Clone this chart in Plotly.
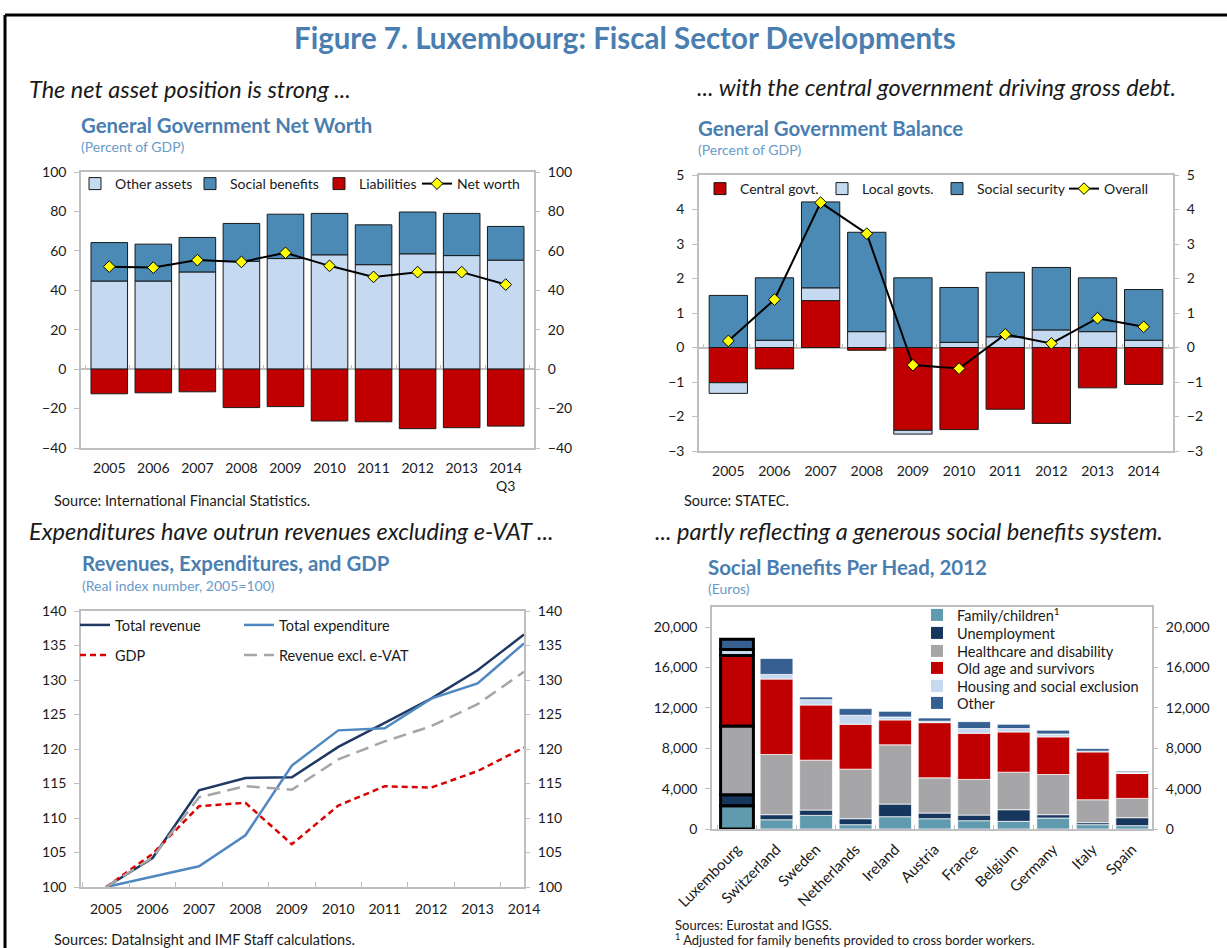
import plotly.graph_objects as go

W, H = 1227, 948
FONT = "Lato, 'Open Sans', sans-serif"
TITLE_BLUE = "#4A7EB0"
SUB_BLUE = "#6A9BC8"
AX = "#BFBFBF"
TXT = "#1a1a1a"

# ---------------- Data ----------------
years = ['2005', '2006', '2007', '2008', '2009', '2010', '2011', '2012', '2013', '2014']
nw_labels = ['2005', '2006', '2007', '2008', '2009', '2010', '2011', '2012', '2013', '2014<br>Q3']

# Panel 1: General Government Net Worth (percent of GDP)
other_assets = [44.7, 44.7, 49.3, 54.7, 56.1, 58.0, 53.0, 58.5, 57.6, 55.3]
social_benefits = [19.5, 18.7, 17.5, 19.2, 22.5, 21.0, 20.2, 21.2, 21.4, 17.1]
liabilities = [-12.5, -12.0, -11.5, -19.5, -19.0, -26.3, -26.7, -30.2, -29.7, -28.9]
net_worth = [52.0, 51.5, 55.3, 54.4, 59.0, 52.4, 46.8, 49.2, 49.2, 42.9]

# Panel 2: General Government Balance (percent of GDP)
central_govt = [-1.02, -0.62, 1.36, -0.08, -2.40, -2.38, -1.79, -2.20, -1.17, -1.07]
local_govts = [-0.31, 0.21, 0.37, 0.46, -0.11, 0.15, 0.31, 0.51, 0.46, 0.21]
social_security = [1.51, 1.81, 2.49, 2.88, 2.02, 1.59, 1.87, 1.81, 1.56, 1.47]
overall = [0.19, 1.39, 4.20, 3.30, -0.51, -0.61, 0.38, 0.12, 0.85, 0.60]

# Panel 3: Revenues, Expenditures, and GDP (2005=100)
total_revenue = [100.0, 104.2, 114.0, 115.8, 115.9, 120.3, 123.8, 127.3, 131.4, 136.6]
total_expenditure = [100.0, 101.5, 103.0, 107.5, 117.6, 122.7, 123.0, 127.3, 129.5, 135.3]
gdp = [100.0, 104.8, 111.7, 112.2, 106.2, 111.8, 114.6, 114.4, 116.8, 120.2]
revenue_excl_evat = [100.0, 104.3, 113.0, 114.6, 114.1, 118.5, 121.1, 123.3, 126.5, 131.2]

# Panel 4: Social Benefits Per Head, 2012 (Euros)
countries = ['Luxembourg', 'Switzerland', 'Sweden', 'Netherlands', 'Ireland', 'Austria',
             'France', 'Belgium', 'Germany', 'Italy', 'Spain']
family_children = [2300, 920, 1350, 430, 1220, 1020, 820, 760, 1090, 430, 330]
unemployment = [1100, 500, 530, 590, 1250, 560, 560, 1150, 330, 200, 790]
healthcare_disability = [6800, 5960, 4940, 4910, 5870, 3490, 3530, 3720, 3980, 2270, 1910]
old_age_survivors = [7000, 7480, 5470, 4450, 2470, 5470, 4580, 3990, 3730, 4740, 2470]
housing_social_excl = [600, 460, 530, 890, 290, 140, 460, 330, 290, 70, 100]
other_benefits = [1000, 1580, 260, 660, 560, 320, 690, 430, 370, 260, 130]

# ---------------- Helpers ----------------
def xd(a, b):
    return [a / W, b / W]

def yd(top, bottom):
    return [1 - bottom / H, 1 - top / H]

fig = go.Figure()

bar_line = dict(color="#1a1a1a", width=1)
diamond = dict(symbol="diamond", size=9, color="#FFFF00", line=dict(color="black", width=1))

# Panel 1
fig.add_trace(go.Bar(x=nw_labels, y=other_assets, name="Other assets", marker=dict(color="#C5D9F1", line=bar_line),
                     xaxis="x", yaxis="y", legend="legend"))
fig.add_trace(go.Bar(x=nw_labels, y=social_benefits, name="Social benefits", marker=dict(color="#4A8AB4", line=bar_line),
                     xaxis="x", yaxis="y", legend="legend2"))
fig.add_trace(go.Bar(x=nw_labels, y=liabilities, name="Liabilities", marker=dict(color="#C00000", line=bar_line),
                     xaxis="x", yaxis="y", legend="legend3"))
fig.add_trace(go.Scatter(x=nw_labels, y=net_worth, name="Net worth", mode="lines+markers",
                         line=dict(color="black", width=2), marker=diamond,
                         xaxis="x", yaxis="y", legend="legend4"))
fig.add_trace(go.Scatter(x=[nw_labels[0]], y=[0], mode="markers", marker=dict(size=0.1, opacity=0),
                         showlegend=False, hoverinfo="skip", xaxis="x", yaxis="y2"))
fig.add_trace(go.Scatter(x=nw_labels, y=[None] * len(nw_labels), mode="markers", showlegend=False,
                         hoverinfo="skip", xaxis="x5", yaxis="y"))

# Panel 2
fig.add_trace(go.Bar(x=years, y=central_govt, name="Central govt.", marker=dict(color="#C00000", line=bar_line),
                     xaxis="x2", yaxis="y3", legend="legend5"))
fig.add_trace(go.Bar(x=years, y=local_govts, name="Local govts.", marker=dict(color="#C5D9F1", line=bar_line),
                     xaxis="x2", yaxis="y3", legend="legend6"))
fig.add_trace(go.Bar(x=years, y=social_security, name="Social security", marker=dict(color="#4A8AB4", line=bar_line),
                     xaxis="x2", yaxis="y3", legend="legend7"))
fig.add_trace(go.Scatter(x=years, y=overall, name="Overall", mode="lines+markers",
                         line=dict(color="black", width=2), marker=diamond,
                         xaxis="x2", yaxis="y3", legend="legend8"))
fig.add_trace(go.Scatter(x=[years[0]], y=[0], mode="markers", marker=dict(size=0.1, opacity=0),
                         showlegend=False, hoverinfo="skip", xaxis="x2", yaxis="y4"))
fig.add_trace(go.Scatter(x=years, y=[None] * len(years), mode="markers", showlegend=False,
                         hoverinfo="skip", xaxis="x6", yaxis="y3"))

# Panel 3
fig.add_trace(go.Scatter(x=years, y=total_revenue, name="Total revenue", mode="lines",
                         line=dict(color="#1F3864", width=2.5), xaxis="x3", yaxis="y5", legend="legend9"))
fig.add_trace(go.Scatter(x=years, y=total_expenditure, name="Total expenditure", mode="lines",
                         line=dict(color="#4F88C0", width=2.5), xaxis="x3", yaxis="y5", legend="legend10"))
fig.add_trace(go.Scatter(x=years, y=gdp, name="GDP", mode="lines",
                         line=dict(color="#D90000", width=2.5, dash="6px,4px"), xaxis="x3", yaxis="y5", legend="legend11"))
fig.add_trace(go.Scatter(x=years, y=revenue_excl_evat, name="Revenue excl. e-VAT", mode="lines",
                         line=dict(color="#A6A6A6", width=2.5, dash="13px,7px"), xaxis="x3", yaxis="y5", legend="legend12"))
fig.add_trace(go.Scatter(x=[years[0]], y=[100], mode="markers", marker=dict(size=0.1, opacity=0),
                         showlegend=False, hoverinfo="skip", xaxis="x3", yaxis="y6"))

# Panel 4
lw = [3] + [0.8] * (len(countries) - 1)
lc = ["black"] + ["rgba(255,255,255,0.9)"] * (len(countries) - 1)
p4_series = [
    (family_children, "Family/children<sup>1</sup>", "#5F9AAF"),
    (unemployment, "Unemployment", "#17365D"),
    (healthcare_disability, "Healthcare and disability", "#A6A6A8"),
    (old_age_survivors, "Old age and survivors", "#C00000"),
    (housing_social_excl, "Housing and social exclusion", "#C6D9F1"),
    (other_benefits, "Other", "#366092"),
]
for i, (vals, nm, col) in enumerate(p4_series):
    fig.add_trace(go.Bar(x=countries, y=vals, name=nm, marker=dict(color=col, line=dict(color=lc, width=lw)),
                         xaxis="x4", yaxis="y7", showlegend=False))
for i, (vals, nm, col) in enumerate(p4_series):
    # legend entries (plain swatches, no data drawn)
    fig.add_trace(go.Bar(x=[countries[0]], y=[None], name=nm, marker=dict(color=col, line=dict(width=0)),
                         xaxis="x4", yaxis="y7", legend="legend%d" % (13 + i), hoverinfo="skip"))
fig.add_trace(go.Scatter(x=[countries[0]], y=[0], mode="markers", marker=dict(size=0.1, opacity=0),
                         showlegend=False, hoverinfo="skip", xaxis="x4", yaxis="y8"))

# ---------------- Axes ----------------
tickfont = dict(family=FONT, size=14, color=TXT)

def xcat(domain, anchor, **kw):
    d = dict(domain=domain, anchor=anchor, type="category", showline=True, linecolor=AX, linewidth=1.5,
             mirror=True, ticks="", showgrid=False, zeroline=False, tickfont=tickfont, fixedrange=True,
             ticklabelstandoff=6)
    d.update(kw)
    return d

def xzero(over, pos):
    return dict(overlaying=over, anchor="free", position=pos, type="category", showline=False,
                showticklabels=False, ticks="inside", tickson="boundaries", ticklen=4, tickcolor=AX,
                tickwidth=1.2, showgrid=False, zeroline=False)

def yleft(domain, anchor, rng, dtick, **kw):
    d = dict(domain=domain, anchor=anchor, range=rng, dtick=dtick, showline=True, linecolor=AX, linewidth=1.5,
             mirror=True, ticks="outside", ticklen=5, tickcolor=AX, tickwidth=1.2, showgrid=False,
             zeroline=False, tickfont=tickfont, ticklabelstandoff=5)
    d.update(kw)
    return d

def yright(over, anchor, rng, dtick, **kw):
    d = dict(overlaying=over, anchor=anchor, side="right", range=rng, dtick=dtick, showline=False,
             ticks="outside", ticklen=5, tickcolor=AX, tickwidth=1.2, showgrid=False, zeroline=False,
             tickfont=tickfont, ticklabelstandoff=5)
    d.update(kw)
    return d

y1_dom = yd(172, 448)
y3_dom = yd(175, 451)
zero1 = y1_dom[0] + (0 - (-40)) / 140 * (y1_dom[1] - y1_dom[0])
zero2 = y3_dom[0] + (0 - (-3)) / 8 * (y3_dom[1] - y3_dom[0])

sep_vals = [4000 * i for i in range(6)]
fig.update_layout(
    xaxis=xcat(xd(81, 534), "y"),
    yaxis=yleft(y1_dom, "x", [-40, 100], 20, zeroline=True, zerolinecolor=AX, zerolinewidth=1.5),
    yaxis2=yright("y", "x", [-40, 100], 20),
    xaxis5=xzero("x", zero1),
    xaxis2=xcat(xd(699, 1173), "y3"),
    yaxis3=yleft(y3_dom, "x2", [-3, 5], 1, zeroline=True, zerolinecolor=AX, zerolinewidth=1.5),
    yaxis4=yright("y3", "x2", [-3, 5], 1),
    xaxis6=xzero("x2", zero2),
    xaxis3=xcat(xd(81, 524), "y5", ticks="inside", tickson="boundaries", ticklen=5, tickcolor=AX,
                ticklabelstandoff=8),
    yaxis5=yleft(yd(611, 887), "x3", [100, 140], 5),
    yaxis6=yright("y5", "x3", [100, 140], 5),
    xaxis4=xcat(xd(712, 1152), "y7", tickangle=-45, ticks="inside", tickson="boundaries", ticklen=4,
                tickcolor=AX, ticklabelstandoff=4, tickfont=dict(family=FONT, size=15, color=TXT)),
    yaxis7=yleft(yd(607, 829), "x4", [0, 22000], None, tickvals=sep_vals, tickformat=",d"),
    yaxis8=yright("y7", "x4", [0, 22000], None, tickvals=sep_vals, tickformat=",d"),
)

# ---------------- Legends ----------------
def leg(text_x, yc, size=14, **kw):
    d = dict(x=(text_x - 38) / W, y=1 - yc / H, xanchor="left", yanchor="middle", orientation="h",
             bgcolor="rgba(0,0,0,0)", borderwidth=0, font=dict(family=FONT, size=size, color=TXT),
             itemclick=False, itemdoubleclick=False, traceorder="normal")
    d.update(kw)
    return d

legs = dict(
    legend=leg(113, 184), legend2=leg(228, 184), legend3=leg(357, 184), legend4=leg(455, 184),
    legend5=leg(738, 189), legend6=leg(860, 189), legend7=leg(975, 189), legend8=leg(1102, 189),
    legend9=leg(113, 625, 14.5), legend10=leg(277, 625, 14.5), legend11=leg(113, 655, 14.5),
    legend12=leg(277, 655, 14.5),
)
p4_rows = [615, 633, 651, 668, 686, 703]
for i, yc in enumerate(p4_rows):
    legs["legend%d" % (13 + i)] = leg(955, yc, 14.5)
fig.update_layout(**legs)

# ---------------- Annotations ----------------
ann = []

def txt(x, y, s, size, color=TXT, anchor="left", bold=False, italic=False):
    if bold:
        s = "<b>" + s + "</b>"
    if italic:
        s = "<i>" + s + "</i>"
    ann.append(dict(x=x / W, y=1 - y / H, xref="paper", yref="paper", text=s, showarrow=False,
                    xanchor=anchor, yanchor="middle", font=dict(family=FONT, size=size, color=color)))

txt(625, 37, "Figure 7. Luxembourg: Fiscal Sector Developments", 29.5, TITLE_BLUE, "center", bold=True)
txt(27, 89, "The net asset position is strong ...", 23.5, TXT, italic=True)
txt(1178, 87, "... with the central government driving gross debt.", 23.5, TXT, "right", italic=True)
txt(27, 531, "Expenditures have outrun revenues excluding e-VAT ...", 23.5, TXT, italic=True)
txt(1165, 531, "... partly reflecting a generous social benefits system.", 23.5, TXT, "right", italic=True)

txt(79, 125, "General Government Net Worth", 20.4, TITLE_BLUE, bold=True)
txt(79, 146, "(Percent of GDP)", 14, SUB_BLUE)
txt(696, 128, "General Government Balance", 20.4, TITLE_BLUE, bold=True)
txt(696, 150, "(Percent of GDP)", 14, SUB_BLUE)
txt(80, 563, "Revenues, Expenditures, and GDP", 20.4, TITLE_BLUE, bold=True)
txt(80, 585, "(Real index number, 2005=100)", 14, SUB_BLUE)
txt(706, 567, "Social Benefits Per Head, 2012", 20.4, TITLE_BLUE, bold=True)
txt(706, 588, "(Euros)", 14, SUB_BLUE)

txt(52, 500, "Source: International Financial Statistics.", 14.5, TXT)
txt(682, 500, "Source: STATEC.", 14.5, TXT)
txt(52, 939, "Sources: DataInsight and IMF Staff calculations.", 14.5, TXT)
txt(673, 925, "Sources: Eurostat and IGSS.", 13, TXT)
txt(673, 939, "<sup>1</sup> Adjusted for family benefits provided to cross border workers.", 13, TXT)

shapes = [
    dict(type="line", xref="paper", yref="paper", x0=5 / W, x1=1, y0=1 - 15 / H, y1=1 - 15 / H,
         line=dict(color="black", width=3)),
    dict(type="line", xref="paper", yref="paper", x0=5 / W, x1=5 / W, y0=0, y1=1 - 15 / H,
         line=dict(color="black", width=3)),
]

fig.update_layout(
    width=W, height=H, autosize=False, margin=dict(l=0, r=0, t=0, b=0, autoexpand=False),
    paper_bgcolor="white", plot_bgcolor="white",
    barmode="relative", bargap=0.17,
    annotations=ann, shapes=shapes,
    font=dict(family=FONT, size=13, color=TXT),
    hovermode=False,
)

fig.write_html("out.html", config={"displayModeBar": False},
               post_script="document.body.style.margin='0px';document.body.style.overflow='hidden';")
